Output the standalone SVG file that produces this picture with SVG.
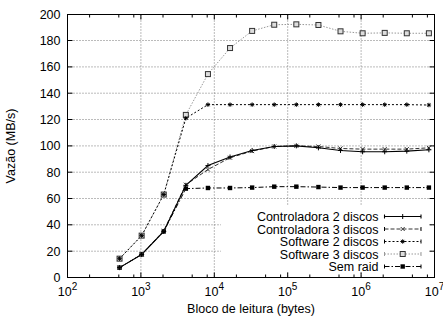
<svg xmlns="http://www.w3.org/2000/svg" xmlns:xlink="http://www.w3.org/1999/xlink" width="443" height="320" viewBox="0 0 443 320">
<style>
text{font-family:"Liberation Sans",Arial,sans-serif;font-size:12.5px;fill:#000}
.grid{stroke:#777;stroke-width:1;stroke-dasharray:1,2;fill:none}
.tick{stroke:#000;stroke-width:1;fill:none}
.c2{stroke:#000;stroke-width:1.1;fill:none}
.c3{stroke:#333;stroke-width:1;stroke-dasharray:4,2;fill:none}
.s2{stroke:#000;stroke-width:1;stroke-dasharray:2,2;fill:none}
.s3{stroke:#999;stroke-width:1;stroke-dasharray:1.5,1.5;fill:none}
.sr{stroke:#000;stroke-width:1;stroke-dasharray:5,2,1.5,2;fill:none}
.mk{stroke:#000;stroke-width:1;fill:none}
</style>
<defs>
<g id="m-plus"><path class="mk" d="M-2.5,0H2.5M0,-2.5V2.5"/></g>
<g id="m-x"><path d="M-2,-2L2,2M-2,2L2,-2" stroke="#333" stroke-width="1" fill="none"/></g>
<g id="m-star"><path class="mk" d="M-2.2,0H2.2M0,-2.2V2.2M-1.6,-1.6L1.6,1.6M-1.6,1.6L1.6,-1.6"/></g>
<g id="m-osq"><rect x="-2.5" y="-2.5" width="5" height="5" fill="#ddd" stroke="#333" stroke-width="1"/></g>
<g id="m-fsq"><rect x="-2.2" y="-2.2" width="4.4" height="4.4" fill="#000"/></g>
</defs>
<rect width="443" height="320" fill="#fff"/>
<g id="grid">
<path class="grid" d="M67.5,251.2H434.5M67.5,224.8H434.5M67.5,198.5H434.5M67.5,172.2H434.5M67.5,145.9H434.5M67.5,119.5H434.5M67.5,93.2H434.5M67.5,66.9H434.5M67.5,40.5H434.5"/>
<path class="grid" d="M140.9,14.5V277.5M214.3,14.5V277.5M287.7,14.5V277.5M361.1,14.5V277.5"/>
</g>
<rect id="key-mask" x="221" y="205" width="208" height="67" fill="#fff"/>
<g id="axes">
<rect x="67.5" y="14.5" width="367" height="263" fill="none" stroke="#000" stroke-width="1"/>
<path class="tick" d="M67.5,251.2h5M67.5,224.8h5M67.5,198.5h5M67.5,172.2h5M67.5,145.9h5M67.5,119.5h5M67.5,93.2h5M67.5,66.9h5M67.5,40.5h5M434.5,251.2h-5M434.5,224.8h-5M434.5,198.5h-5M434.5,172.2h-5M434.5,145.9h-5M434.5,119.5h-5M434.5,93.2h-5M434.5,66.9h-5M434.5,40.5h-5"/>
<path class="tick" d="M140.9,277.5v-5M214.3,277.5v-5M287.7,277.5v-5M361.1,277.5v-5M140.9,14.5v5M214.3,14.5v5M287.7,14.5v5M361.1,14.5v5"/>
<path class="tick" d="M89.6,277.5v-3M118.8,277.5v-3M133.8,277.5v-3M163,277.5v-3M192.2,277.5v-3M207.2,277.5v-3M236.4,277.5v-3M265.6,277.5v-3M280.6,277.5v-3M309.8,277.5v-3M339,277.5v-3M354,277.5v-3M383.2,277.5v-3M412.4,277.5v-3M427.4,277.5v-3M89.6,14.5v3M118.8,14.5v3M133.8,14.5v3M163,14.5v3M192.2,14.5v3M207.2,14.5v3M236.4,14.5v3M265.6,14.5v3M280.6,14.5v3M309.8,14.5v3M339,14.5v3M354,14.5v3M383.2,14.5v3M412.4,14.5v3M427.4,14.5v3"/>
</g>
<g id="y-labels" text-anchor="end">
<text x="60.5" y="282">0</text>
<text x="60.5" y="255.7">20</text>
<text x="60.5" y="229.3">40</text>
<text x="60.5" y="203">60</text>
<text x="60.5" y="176.7">80</text>
<text x="60.5" y="150.4">100</text>
<text x="60.5" y="124">120</text>
<text x="60.5" y="97.7">140</text>
<text x="60.5" y="71.4">160</text>
<text x="60.5" y="45">180</text>
<text x="60.5" y="18.7">200</text>
</g>
<g id="x-labels" text-anchor="middle">
<text x="67.5" y="295.5">10<tspan dy="-6" font-size="10">2</tspan></text>
<text x="140.9" y="295.5">10<tspan dy="-6" font-size="10">3</tspan></text>
<text x="214.3" y="295.5">10<tspan dy="-6" font-size="10">4</tspan></text>
<text x="287.7" y="295.5">10<tspan dy="-6" font-size="10">5</tspan></text>
<text x="361.1" y="295.5">10<tspan dy="-6" font-size="10">6</tspan></text>
<text x="434.5" y="295.5">10<tspan dy="-6" font-size="10">7</tspan></text>
</g>
<text id="x-title" x="251" y="313" text-anchor="middle">Bloco de leitura (bytes)</text>
<text id="y-title" transform="translate(15,146) rotate(-90)" text-anchor="middle">Vazão (MB/s)</text>
<g id="series-lines">
<polyline class="s3" points="119.56,258.67 141.66,235.63 163.75,194.56 185.85,114.91 207.94,74.10 230.04,48.04 252.13,30.92 274.23,24.73 296.33,24.34 318.42,24.99 340.52,31.31 362.62,33.28 384.71,32.89 406.80,33.28 428.90,33.28"/>
<polyline class="s2" points="119.56,258.67 141.66,235.63 163.75,194.56 185.85,118.20 207.94,104.64 230.04,104.64 252.13,104.64 274.23,104.64 296.33,104.64 318.42,104.64 340.52,104.64 362.62,104.64 384.71,104.64 406.80,104.64 428.90,105.04"/>
<polyline class="sr" points="119.56,267.63 141.66,254.46 163.75,231.42 185.85,188.64 207.94,187.98 230.04,187.98 252.13,187.58 274.23,186.66 296.33,186.66 318.42,187.06 340.52,187.58 362.62,187.58 384.71,187.58 406.80,187.58 428.90,187.58"/>
<polyline class="c3" points="119.56,267.63 141.66,254.46 163.75,230.76 185.85,184.69 207.94,169.55 230.04,157.70 252.13,151.12 274.23,146.51 296.33,145.85 318.42,146.51 340.52,148.48 362.62,149.14 384.71,149.14 406.80,149.14 428.90,147.82"/>
<polyline class="c2" points="119.56,267.63 141.66,254.46 163.75,231.42 185.85,185.35 207.94,165.60 230.04,157.04 252.13,150.46 274.23,146.51 296.33,145.85 318.42,147.82 340.52,150.46 362.62,151.77 384.71,151.77 406.80,151.12 428.90,149.80"/>
</g>
<g id="series-markers">
<use href="#m-osq" x="119.56" y="258.67"/><use href="#m-osq" x="141.66" y="235.63"/><use href="#m-osq" x="163.75" y="194.56"/><use href="#m-osq" x="185.85" y="114.91"/><use href="#m-osq" x="207.94" y="74.10"/><use href="#m-osq" x="230.04" y="48.04"/><use href="#m-osq" x="252.13" y="30.92"/><use href="#m-osq" x="274.23" y="24.73"/><use href="#m-osq" x="296.33" y="24.34"/><use href="#m-osq" x="318.42" y="24.99"/><use href="#m-osq" x="340.52" y="31.31"/><use href="#m-osq" x="362.62" y="33.28"/><use href="#m-osq" x="384.71" y="32.89"/><use href="#m-osq" x="406.80" y="33.28"/><use href="#m-osq" x="428.90" y="33.28"/>
<use href="#m-star" x="119.56" y="258.67"/><use href="#m-star" x="141.66" y="235.63"/><use href="#m-star" x="163.75" y="194.56"/><use href="#m-star" x="185.85" y="118.20"/><use href="#m-star" x="207.94" y="104.64"/><use href="#m-star" x="230.04" y="104.64"/><use href="#m-star" x="252.13" y="104.64"/><use href="#m-star" x="274.23" y="104.64"/><use href="#m-star" x="296.33" y="104.64"/><use href="#m-star" x="318.42" y="104.64"/><use href="#m-star" x="340.52" y="104.64"/><use href="#m-star" x="362.62" y="104.64"/><use href="#m-star" x="384.71" y="104.64"/><use href="#m-star" x="406.80" y="104.64"/><use href="#m-star" x="428.90" y="105.04"/>
<use href="#m-fsq" x="119.56" y="267.63"/><use href="#m-fsq" x="141.66" y="254.46"/><use href="#m-fsq" x="163.75" y="231.42"/><use href="#m-fsq" x="185.85" y="188.64"/><use href="#m-fsq" x="207.94" y="187.98"/><use href="#m-fsq" x="230.04" y="187.98"/><use href="#m-fsq" x="252.13" y="187.58"/><use href="#m-fsq" x="274.23" y="186.66"/><use href="#m-fsq" x="296.33" y="186.66"/><use href="#m-fsq" x="318.42" y="187.06"/><use href="#m-fsq" x="340.52" y="187.58"/><use href="#m-fsq" x="362.62" y="187.58"/><use href="#m-fsq" x="384.71" y="187.58"/><use href="#m-fsq" x="406.80" y="187.58"/><use href="#m-fsq" x="428.90" y="187.58"/>
<use href="#m-x" x="119.56" y="267.63"/><use href="#m-x" x="141.66" y="254.46"/><use href="#m-x" x="163.75" y="230.76"/><use href="#m-x" x="185.85" y="184.69"/><use href="#m-x" x="207.94" y="169.55"/><use href="#m-x" x="230.04" y="157.70"/><use href="#m-x" x="252.13" y="151.12"/><use href="#m-x" x="274.23" y="146.51"/><use href="#m-x" x="296.33" y="145.85"/><use href="#m-x" x="318.42" y="146.51"/><use href="#m-x" x="340.52" y="148.48"/><use href="#m-x" x="362.62" y="149.14"/><use href="#m-x" x="384.71" y="149.14"/><use href="#m-x" x="406.80" y="149.14"/><use href="#m-x" x="428.90" y="147.82"/>
<use href="#m-plus" x="119.56" y="267.63"/><use href="#m-plus" x="141.66" y="254.46"/><use href="#m-plus" x="163.75" y="231.42"/><use href="#m-plus" x="185.85" y="185.35"/><use href="#m-plus" x="207.94" y="165.60"/><use href="#m-plus" x="230.04" y="157.04"/><use href="#m-plus" x="252.13" y="150.46"/><use href="#m-plus" x="274.23" y="146.51"/><use href="#m-plus" x="296.33" y="145.85"/><use href="#m-plus" x="318.42" y="147.82"/><use href="#m-plus" x="340.52" y="150.46"/><use href="#m-plus" x="362.62" y="151.77"/><use href="#m-plus" x="384.71" y="151.77"/><use href="#m-plus" x="406.80" y="151.12"/><use href="#m-plus" x="428.90" y="149.80"/>
</g>
<g id="legend">
<g text-anchor="end">
<text x="378.5" y="221">Controladora 2 discos</text>
<text x="378.5" y="233.5">Controladora 3 discos</text>
<text x="378.5" y="246">Software 2 discos</text>
<text x="378.5" y="258.5">Software 3 discos</text>
<text x="378.5" y="271">Sem raid</text>
</g>
<path class="c2" d="M384.5,216.5H421M384.5,214.5v4M421,214.5v4"/>
<use href="#m-plus" x="402.7" y="216.5"/>
<path class="c3" d="M384.5,229H421"/><path class="tick" d="M384.5,227v4M421,227v4"/>
<use href="#m-x" x="402.7" y="229"/>
<path class="s2" d="M384.5,241.5H421"/><path class="tick" d="M384.5,239.5v4M421,239.5v4"/>
<use href="#m-star" x="402.7" y="241.5"/>
<path class="s3" d="M384.5,254H421"/><path d="M384.5,252v4M421,252v4" stroke="#999" fill="none"/>
<use href="#m-osq" x="402.7" y="254"/>
<path class="sr" d="M384.5,266.5H421"/><path class="tick" d="M384.5,264.5v4M421,264.5v4"/>
<use href="#m-fsq" x="402.7" y="266.5"/>
</g>
</svg>
